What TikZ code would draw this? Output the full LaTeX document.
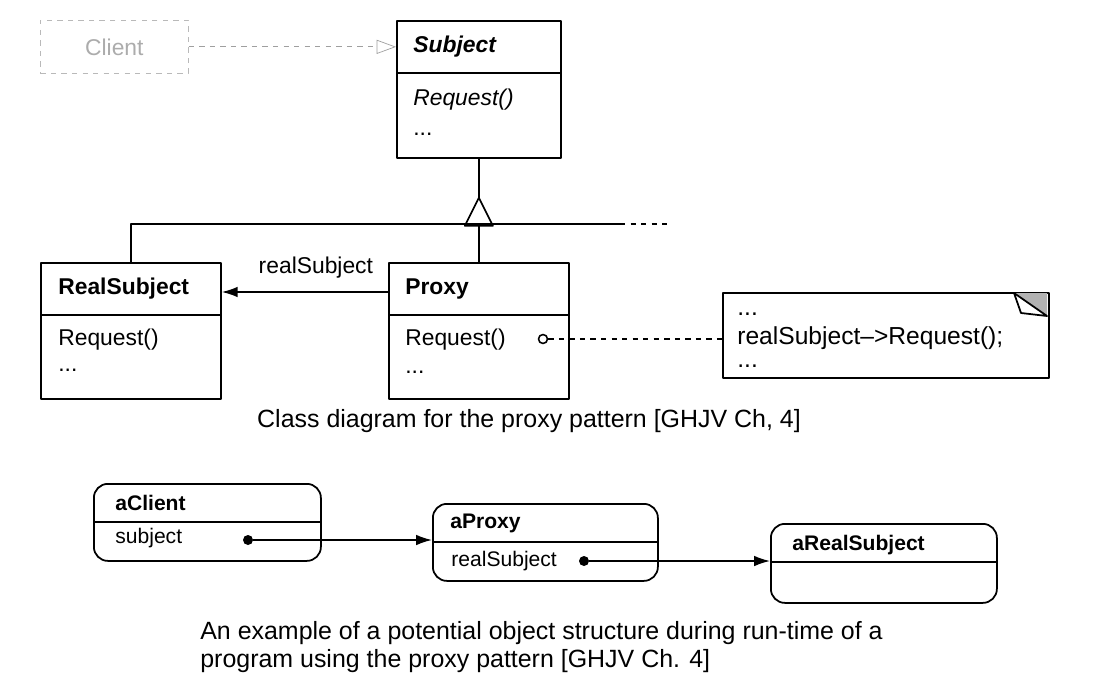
\documentclass[tikz,border=0pt]{standalone}
\usepackage{fontspec}
\setmainfont{Liberation Sans}
\usetikzlibrary{arrows.meta,positioning}
\newdimen\pxu \pxu=0.02cm
\newcommand\dfont{\fontsize{13}{15}\selectfont}
\newcommand\ofont{\fontsize{12}{14}\selectfont}
\newcommand\cfont{\fontsize{14.2}{16}\selectfont}
\tikzset{
  classbox/.style={draw, line width=1pt, anchor=north west, inner sep=0pt},
  objbox/.style={classbox, rounded corners=14\pxu},
  txt/.style={anchor=west, inner sep=0pt, font=\dfont},
  boldtxt/.style={anchor=west, inner sep=0pt, font=\dfont\bfseries},
  notetxt/.style={anchor=west, inner sep=0pt, font=\fontsize{14}{16}\selectfont},
  otxt/.style={anchor=west, inner sep=0pt, font=\ofont},
  oboldtxt/.style={anchor=west, inner sep=0pt, font=\ofont\bfseries},
  link/.style={line width=0.9pt, -{Latex[length=9pt,width=6pt]}},
  blob/.style={circle, fill, minimum size=10\pxu, inner sep=0pt},
}
\begin{document}
\begin{tikzpicture}[x=0.02cm, y=-0.02cm, line join=round]
	\useasboundingbox (0,0) rectangle (1118,689);
	% class diagram
	\node[draw=gray!55, dashed, minimum width=148\pxu, minimum height=53\pxu, anchor=north west, inner sep=0pt, text=gray!65, font=\dfont] (client) at (40,20) {Client};
	\node[classbox, minimum width=164\pxu, minimum height=137\pxu] (subj) at (396,20) {};
	\draw[line width=1pt] (396,73) -- (560,73);
	\node[boldtxt, font=\dfont\bfseries\itshape] at (413,47) {Subject};
	\node[txt, font=\dfont\itshape] at (413,100) {Request()};
	\node[txt] at (413,134) {...};
	\draw[gray!75, dashed, -{Triangle[open,length=11pt,width=8pt]}] (client.east) -- (client.east -| subj.west);

	\node[classbox, minimum width=180\pxu, minimum height=136\pxu] (rs) at (40,262) {};
	\draw[line width=1pt] (40,315) -- (220,315);
	\node[boldtxt] at (58,289) {RealSubject};
	\node[txt] at (58,340) {Request()};
	\node[txt] at (58,370) {...};

	\node[classbox, minimum width=180\pxu, minimum height=136\pxu] (px) at (388,262) {};
	\draw[line width=1pt] (388,315) -- (568,315);
	\node[boldtxt] at (405,289) {Proxy};
	\node[txt] at (405,340) {Request()};
	\node[txt] at (405,372) {...};
	\node[circle, draw, line width=0.9pt, minimum size=9\pxu, inner sep=0pt] (hook) at (543,339) {};

	% inheritance
	\draw[line width=1pt] (subj.south) -- ++(0,39) coordinate (apex);
	\draw[line width=1pt] (apex) -- ++(-14,28) -- ++(28,0) -- cycle;
	\draw[line width=1pt] (rs.north) -- (rs.north |- 0,224) -- (620,224);
	\draw[line width=1pt, dashed] (620,224) -- (668,224);
	\draw[line width=1pt] (px.north) -- (px.north |- 0,224);

	\draw[link] (px.west |- 0,292) -- (rs.east |- 0,292) node[midway, above=4pt, xshift=11\pxu, font=\dfont] {realSubject};

	% note
	\node[classbox, minimum width=326\pxu, minimum height=85\pxu] (note) at (722,292) {};
	\fill[gray!60] (1014,293) -- (1047,293) -- (1047,316) -- cycle;
	\draw[line width=1pt, fill=white] (1014,293) -- (1021,313) -- (1047,316) -- cycle;
	\node[notetxt] at (737,314) {...};
	\node[notetxt] at (737,338) {realSubject\textendash>Request();};
	\node[notetxt] at (737,366) {...};
	\draw[line width=1pt, dashed] (hook.east) -- (hook.east -| note.west);

	\node[font=\cfont] (cap1) at (529,421) {Class diagram for the proxy pattern [GHJV Ch, 4]};

	% object structure
	\node[objbox, minimum width=227\pxu, minimum height=77\pxu] (acl) at (93,483) {};
	\draw[line width=1pt] (93,522) -- (320,522);
	\node[oboldtxt] at (115,503) {aClient};
	\node[otxt] at (115,538) {subject};
	\node[blob] (d1) at (248,540) {};

	\node[objbox, minimum width=225\pxu, minimum height=77\pxu] (apx) at (432,503) {};
	\draw[line width=1pt] (432,542) -- (657,542);
	\node[oboldtxt] at (450,523) {aProxy};
	\node[otxt] at (451,561) {realSubject};
	\node[blob] (d2) at (584,561) {};

	\node[objbox, minimum width=226\pxu, minimum height=79\pxu] (ars) at (770,523) {};
	\draw[line width=1pt] (770,562) -- (996,562);
	\node[oboldtxt] at (792,545) {aRealSubject};

	\draw[link] (d1) -- (d1 -| apx.west);
	\draw[link] (d2) -- (d2 -| ars.west);

	\node[anchor=north west, align=left, inner sep=0pt, font=\fontsize{14.2}{16}\selectfont] (cap2) at (200,621) {An example of a potential object structure during run-time of a\\program using the proxy pattern [GHJV Ch. 4]};
\end{tikzpicture}
\end{document}
